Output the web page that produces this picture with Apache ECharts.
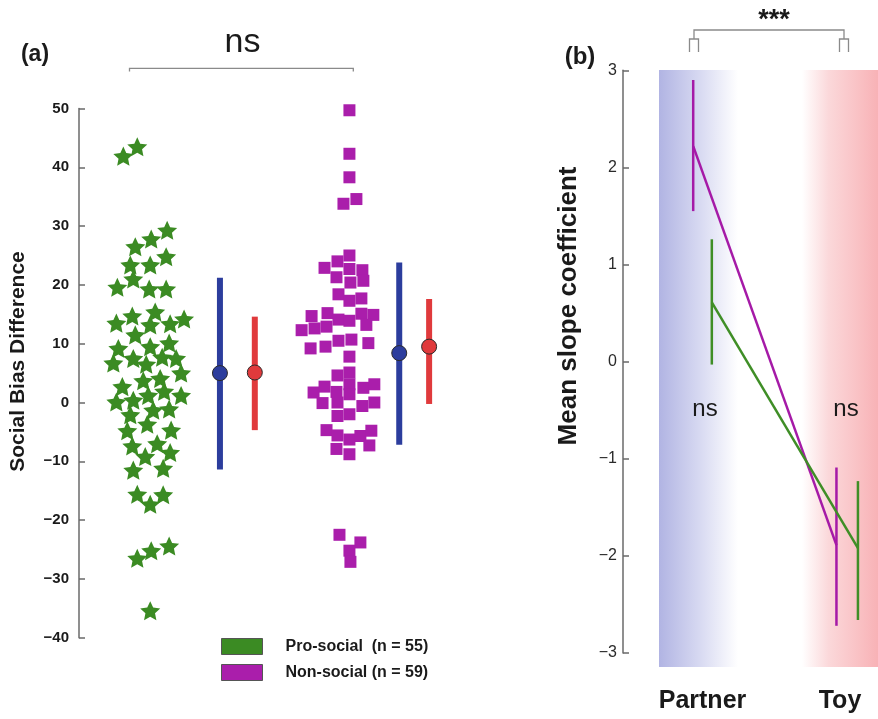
<!DOCTYPE html>
<html>
<head>
<meta charset="utf-8">
<script src="https://cdn.jsdelivr.net/npm/echarts@6/dist/echarts.min.js"></script>
<style>
	html, body { margin: 0; padding: 0; background: #fff; }
	#chart { width: 878px; height: 719px; }
</style>
</head>
<body>
<div id="chart"></div>
<script>
// panel (a): individual social bias differences, x = jitter around the group centre
var starOffset = [-0.27, -0.13, 0.17, 0.01, -0.15, 0.16, 0.0, -0.20, -0.17, -0.33, -0.01, 0.16, 0.05, 0.34,
	-0.34, -0.18, 0.0, 0.20, -0.15, 0.19, -0.32, 0.0, -0.37, -0.17, -0.04, 0.12, 0.26, 0.31, -0.07, 0.10,
	-0.28, -0.34, -0.17, -0.02, 0.14, 0.31, 0.03, 0.19, -0.20, -0.03, -0.23, 0.21, 0.07, -0.18, 0.20,
	-0.05, -0.17, 0.13, -0.13, 0.13, 0.0, -0.13, 0.01, 0.19, 0.0];
var starValue = [41.9, 43.5, 29.3, 27.8, 26.5, 24.8, 23.4, 23.4, 21.0, 19.6, 19.3, 19.3, 15.4, 14.2,
	13.5, 14.7, 13.2, 13.4, 11.5, 10.1, 9.2, 9.5, 6.7, 7.5, 6.5, 7.7, 7.5, 5.0, 3.7, 4.1,
	2.7, 0.1, 0.4, 1.2, 1.9, 1.2, -1.3, -1.1, -2.1, -3.7, -4.8, -4.7, -7.0, -7.4, -8.5,
	-9.2, -11.5, -11.2, -15.6, -15.7, -17.3, -26.5, -25.2, -24.4, -35.4];

var squareOffset = [0.0, 0.0, 0.0, -0.06, 0.07, 0.0, -0.12, -0.25, 0.0, 0.13, -0.13, 0.01, 0.14, -0.11,
	0.0, 0.12, -0.38, -0.22, -0.11, 0.0, 0.12, 0.24, -0.48, -0.35, -0.23, 0.17, -0.39, -0.24, -0.11,
	0.02, 0.19, 0.0, -0.12, 0.0, -0.36, -0.25, -0.13, 0.0, 0.0, 0.14, 0.25, -0.27, -0.12, 0.13, 0.25,
	-0.12, 0.0, -0.23, -0.12, 0.0, 0.11, 0.22, 0.20, -0.13, 0.0, -0.10, 0.11, 0.0, 0.01];
var squareValue = [49.7, 42.3, 38.3, 33.8, 34.6, 25.0, 24.0, 22.9, 22.7, 22.5, 21.3, 20.4, 20.7, 18.4,
	17.3, 17.7, 14.7, 15.2, 14.1, 13.9, 15.1, 14.9, 12.3, 12.6, 12.9, 13.2, 9.2, 9.5, 10.5,
	10.7, 10.1, 7.8, 4.6, 5.1, 1.7, 2.7, 1.8, 3.1, 1.4, 2.5, 3.1, -0.1, 0.0, -0.6, 0.0,
	-2.3, -2.0, -4.7, -5.6, -6.3, -5.7, -4.8, -7.3, -7.9, -8.8, -22.5, -23.8, -25.2, -27.1];

// summary bars (blue / red) for each group
var summaryMean = [5.0, 5.1, 8.4, 9.5];
var summaryLow = [-11.4, -4.7, -7.2, -0.25];
var summaryHigh = [21.2, 14.6, 23.8, 17.6];

// panel (b): mean slope coefficients
var slopeConditions = ['Partner', 'Toy'];
var nonSocialSlope = [2.22, -1.89];
var nonSocialLow = [1.55, -2.72];
var nonSocialHigh = [2.9, -1.09];
var proSocialSlope = [0.61, -1.92];
var proSocialLow = [-0.03, -2.66];
var proSocialHigh = [1.26, -1.23];

var GREEN = '#3b8b23', MAGENTA = '#aa1eab', BLUE = '#2c3d9d', RED = '#e03a3c';
var LINE_MAGENTA = '#a51aa7', LINE_GREEN = '#3f8e26';
var FONT = '"Liberation Sans", Arial, sans-serif';
// chunky five-pointed star
var STAR = 'path://M50 0 L64.1 30.6 L97.55 34.55 L72.8 57.4 L79.39 90.45 L50 74 L20.61 90.45 L27.2 57.4 L2.45 34.55 L35.9 30.6 Z';

var PRO_NAME = 'Pro-social  (n = 55)';
var NON_NAME = 'Non-social (n = 59)';

var chart = echarts.init(document.getElementById('chart'), null, { renderer: 'canvas' });

// group centres on panel (a) x axis
var proX = 0, nonX = 2;
var summaryX = [proX + 0.7, proX + 1.05, nonX + 0.5, nonX + 0.8];
var summaryColor = [BLUE, RED, BLUE, RED];

var starData = starValue.map(function (v, i) { return [proX + starOffset[i], v]; });
var squareData = squareValue.map(function (v, i) { return [nonX + squareOffset[i], v]; });
var summaryData = summaryMean.map(function (m, i) {
	return [summaryX[i], m, summaryLow[i], summaryHigh[i], i];
});

// panel (b) x: condition index, pro-social slightly dodged right
var nonDodge = [0, 0], proDodge = [0.13, 0.15];
var nonLine = nonSocialSlope.map(function (v, i) { return [i + nonDodge[i], v]; });
var proLine = proSocialSlope.map(function (v, i) { return [i + proDodge[i], v]; });
var errData = [];
slopeConditions.forEach(function (c, i) {
	errData.push([i + nonDodge[i], nonSocialLow[i], nonSocialHigh[i], 0]);
	errData.push([i + proDodge[i], proSocialLow[i], proSocialHigh[i], 1]);
});

function minusFmt(v) {
	return String(v).replace('-', '\u2212');
}

function text(x, y, str, size, weight, extra) {
	var t = {
		type: 'text', x: x, y: y, z: 10,
		style: {
			text: str, fill: '#1a1a1a', font: (weight || 'normal') + ' ' + size + 'px ' + FONT,
			align: 'center', verticalAlign: 'middle'
		}
	};
	if (extra) { for (var k in extra) t[k] = extra[k]; }
	return t;
}

function bracket(points) {
	return { type: 'polyline', z: 10, shape: { points: points }, style: { stroke: '#8a8a8a', lineWidth: 1.3, fill: null } };
}

var option = {
	animation: false,
	textStyle: { fontFamily: FONT },
	grid: [
		{ left: 79, top: 108.5, width: 380, height: 529.2 },
		{ left: 623, top: 70.3, width: 255, height: 582.7 }
	],
	xAxis: [
		{ gridIndex: 0, type: 'value', min: -0.715, max: 3.1, show: false },
		{ gridIndex: 1, type: 'value', min: -0.49, max: 1.29, show: false }
	],
	yAxis: [
		{
			gridIndex: 0, type: 'value', min: -40, max: 50, interval: 10,
			axisLine: { show: true, onZero: false, lineStyle: { color: '#6a6a6a', width: 1.5 } },
			axisTick: { show: true, inside: true, length: 6, lineStyle: { color: '#6a6a6a', width: 1.5 } },
			axisLabel: { margin: 10, color: '#1a1a1a', fontSize: 15, fontWeight: 'bold', formatter: minusFmt },
			splitLine: { show: false }
		},
		{
			gridIndex: 1, type: 'value', min: -3, max: 3, interval: 1,
			axisLine: { show: true, onZero: false, lineStyle: { color: '#6a6a6a', width: 1.5 } },
			axisTick: { show: true, inside: true, length: 6, lineStyle: { color: '#6a6a6a', width: 1.5 } },
			axisLabel: { margin: 6, color: '#2a2a2a', fontSize: 16, formatter: minusFmt },
			splitLine: { show: false }
		}
	],
	legend: {
		orient: 'vertical', left: 221, top: 638, padding: 0, itemGap: 9,
		itemWidth: 41, itemHeight: 16,
		textStyle: { color: '#1a1a1a', fontSize: 16, fontWeight: 'bold', padding: [0, 0, 0, 18] },
		data: [
			{ name: PRO_NAME, icon: 'rect', itemStyle: { color: GREEN, borderColor: '#555', borderWidth: 1 } },
			{ name: NON_NAME, icon: 'rect', itemStyle: { color: MAGENTA, borderColor: '#555', borderWidth: 1 } }
		]
	},
	series: [
		{
			name: PRO_NAME, type: 'scatter', xAxisIndex: 0, yAxisIndex: 0,
			symbol: STAR, symbolSize: 20, symbolKeepAspect: true,
			itemStyle: { color: GREEN, opacity: 1 },
			data: starData
		},
		{
			name: NON_NAME, type: 'scatter', xAxisIndex: 0, yAxisIndex: 0,
			symbol: 'rect', symbolSize: 12,
			itemStyle: { color: MAGENTA, opacity: 1 },
			data: squareData
		},
		{
			type: 'custom', xAxisIndex: 0, yAxisIndex: 0, z: 4,
			data: summaryData,
			renderItem: function (params, api) {
				var x = api.value(0);
				var mid = api.coord([x, api.value(1)]);
				var lo = api.coord([x, api.value(2)]);
				var hi = api.coord([x, api.value(3)]);
				var col = summaryColor[api.value(4)];
				return {
					type: 'group',
					children: [
						{ type: 'rect', shape: { x: hi[0] - 3, y: hi[1], width: 6, height: lo[1] - hi[1] }, style: { fill: col } },
						{ type: 'circle', shape: { cx: mid[0], cy: mid[1], r: 7.5 }, style: { fill: col, stroke: '#2a2a2a', lineWidth: 1 } }
					]
				};
			}
		},
		{
			type: 'line', xAxisIndex: 1, yAxisIndex: 1, showSymbol: false, z: 5,
			lineStyle: { color: LINE_MAGENTA, width: 2.5 },
			data: nonLine
		},
		{
			type: 'line', xAxisIndex: 1, yAxisIndex: 1, showSymbol: false, z: 5,
			lineStyle: { color: LINE_GREEN, width: 2.5 },
			data: proLine
		},
		{
			type: 'custom', xAxisIndex: 1, yAxisIndex: 1, z: 5,
			data: errData,
			renderItem: function (params, api) {
				var x = api.value(0);
				var lo = api.coord([x, api.value(1)]);
				var hi = api.coord([x, api.value(2)]);
				return {
					type: 'line',
					shape: { x1: lo[0], y1: lo[1], x2: hi[0], y2: hi[1] },
					style: { stroke: api.value(3) === 0 ? LINE_MAGENTA : LINE_GREEN, lineWidth: 2.5 }
				};
			}
		}
	],
	graphic: [
		// condition shading behind panel (b)
		{
			type: 'rect', z: 0, shape: { x: 659, y: 70, width: 79, height: 597 },
			style: { fill: new echarts.graphic.LinearGradient(0, 0, 1, 0, [
				{ offset: 0, color: '#b1b4e3' }, { offset: 0.5, color: '#d6d8f1' }, { offset: 1, color: '#ffffff' }
			]) }
		},
		{
			type: 'rect', z: 0, shape: { x: 802, y: 70, width: 76, height: 597 },
			style: { fill: new echarts.graphic.LinearGradient(0, 0, 1, 0, [
				{ offset: 0, color: '#ffffff' }, { offset: 0.35, color: '#fbd8da' }, { offset: 1, color: '#f8b2b6' }
			]) }
		},
		text(35, 55, '(a)', 23, 'bold'),
		text(580, 57, '(b)', 24, 'bold'),
		text(242.5, 43, 'ns', 34),
		bracket([[129.5, 71.5], [129.5, 68.3], [353.3, 68.3], [353.3, 71.5]]),
		text(774, 21, '***', 27, 'bold'),
		bracket([[694, 39], [694, 30], [844, 30], [844, 39]]),
		bracket([[689.5, 52], [689.5, 39], [698.5, 39], [698.5, 52]]),
		bracket([[839.5, 52], [839.5, 39], [848.5, 39], [848.5, 52]]),
		text(705, 409, 'ns', 24),
		text(846, 409, 'ns', 24),
		text(702.5, 701, slopeConditions[0], 25, 'bold'),
		text(840, 701, slopeConditions[1], 25, 'bold'),
		text(18, 361.5, 'Social Bias Difference', 21, 'bold', { rotation: Math.PI / 2 }),
		text(569, 306, 'Mean slope coefficient', 26, 'bold', { rotation: Math.PI / 2 })
	]
};

chart.setOption(option);
</script>
</body>
</html>
